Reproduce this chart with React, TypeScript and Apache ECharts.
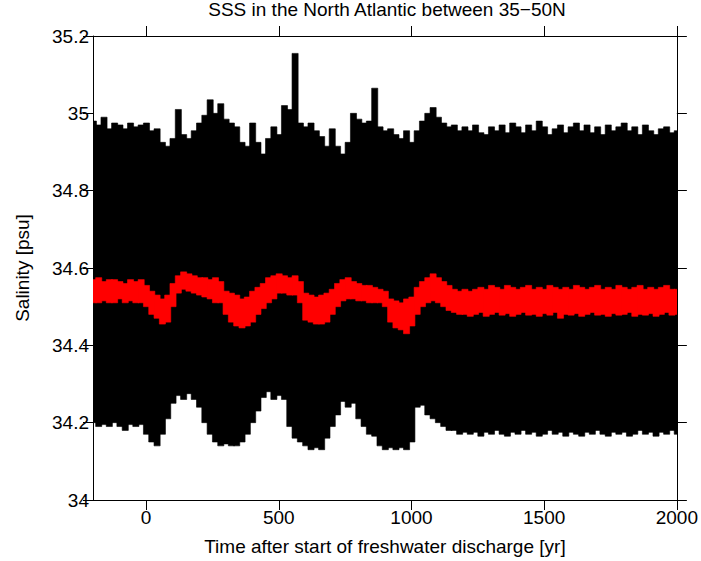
import React, { useEffect, useRef } from "react";
import * as echarts from "echarts";

const years: number[] = [];
for (let y = -200; y <= 2000; y += 20) years.push(y);

const blackHi = [
  34.98, 34.97, 34.99, 34.96, 34.975, 34.97, 34.96, 34.975, 34.965, 34.97,
  34.975, 34.955, 34.96, 34.925, 34.915, 34.935, 35.01, 34.945, 34.935, 34.955,
  34.975, 34.995, 35.035, 35.0, 35.025, 34.985, 34.975, 34.965, 34.925, 34.915,
  34.975, 34.925, 34.895, 34.935, 34.965, 34.945, 35.02, 35.01, 35.155, 34.975,
  34.965, 34.975, 34.955, 34.94, 34.915, 34.96, 34.915, 34.895, 34.925, 35.0,
  34.985, 34.975, 34.98, 35.065, 34.965, 34.955, 34.96, 34.945, 34.935, 34.955,
  34.925, 34.955, 34.98, 35.0, 35.015, 34.99, 34.975, 34.965, 34.97, 34.955,
  34.965, 34.955, 34.97, 34.95, 34.945, 34.965, 34.955, 34.97, 34.95, 34.975,
  34.965, 34.95, 34.97, 34.955, 34.98, 34.965, 34.945, 34.96, 34.97, 34.95,
  34.965, 34.975, 34.955, 34.97, 34.95, 34.965, 34.945, 34.97, 34.955, 34.965,
  34.975, 34.955, 34.965, 34.945, 34.97, 34.955, 34.945, 34.96, 34.965, 34.95,
  34.955,
];

const blackLo = [
  34.2, 34.19, 34.195, 34.19, 34.2, 34.19, 34.18, 34.195, 34.19, 34.195,
  34.17, 34.15, 34.14, 34.17, 34.21, 34.25, 34.27, 34.26, 34.275, 34.26,
  34.24, 34.2, 34.17, 34.15, 34.14, 34.145, 34.14, 34.14, 34.15, 34.17,
  34.2, 34.23, 34.265, 34.28, 34.26, 34.27, 34.26, 34.19, 34.16, 34.15,
  34.14, 34.13, 34.135, 34.13, 34.16, 34.19, 34.22, 34.255, 34.24, 34.25,
  34.21, 34.19, 34.17, 34.165, 34.14, 34.13, 34.135, 34.13, 34.135, 34.13,
  34.15, 34.24, 34.245, 34.22, 34.21, 34.2, 34.19, 34.18, 34.18, 34.17,
  34.175, 34.17, 34.175, 34.165, 34.175, 34.17, 34.18, 34.17, 34.165, 34.175,
  34.17, 34.18, 34.17, 34.175, 34.165, 34.17, 34.18, 34.17, 34.175, 34.165,
  34.175, 34.17, 34.165, 34.175, 34.17, 34.18, 34.17, 34.165, 34.175, 34.17,
  34.175, 34.165, 34.17, 34.18, 34.17, 34.175, 34.165, 34.175, 34.17, 34.18,
  34.17,
];

const redHi = [
  34.57, 34.575, 34.565, 34.57, 34.57, 34.565, 34.56, 34.57, 34.565, 34.57,
  34.555, 34.54, 34.53, 34.52, 34.53, 34.56, 34.58, 34.59, 34.585, 34.58,
  34.575, 34.575, 34.57, 34.575, 34.565, 34.54, 34.535, 34.53, 34.52, 34.525,
  34.54, 34.55, 34.56, 34.575, 34.58, 34.585, 34.58, 34.575, 34.58, 34.565,
  34.535, 34.53, 34.525, 34.53, 34.535, 34.545, 34.56, 34.57, 34.575, 34.565,
  34.56, 34.555, 34.555, 34.55, 34.545, 34.54, 34.52, 34.515, 34.51, 34.52,
  34.525, 34.55, 34.565, 34.575, 34.585, 34.575, 34.565, 34.555, 34.545, 34.54,
  34.545, 34.54, 34.545, 34.55, 34.545, 34.555, 34.55, 34.545, 34.555, 34.55,
  34.545, 34.55, 34.555, 34.545, 34.55, 34.545, 34.555, 34.55, 34.545, 34.55,
  34.545, 34.555, 34.55, 34.545, 34.55, 34.555, 34.545, 34.55, 34.545, 34.555,
  34.55, 34.545, 34.55, 34.555, 34.545, 34.55, 34.545, 34.55, 34.555, 34.545,
  34.545,
];

const redLo = [
  34.51, 34.51, 34.515, 34.51, 34.51, 34.52, 34.51, 34.515, 34.51, 34.51,
  34.5, 34.48, 34.47, 34.455, 34.46, 34.5, 34.535, 34.545, 34.54, 34.535,
  34.53, 34.525, 34.52, 34.51, 34.51, 34.48, 34.46, 34.45, 34.445, 34.45,
  34.46, 34.48, 34.495, 34.51, 34.52, 34.535, 34.535, 34.53, 34.53, 34.51,
  34.465, 34.46, 34.455, 34.455, 34.46, 34.48, 34.5, 34.515, 34.52, 34.52,
  34.515, 34.515, 34.51, 34.51, 34.51, 34.5, 34.46, 34.445, 34.44, 34.43,
  34.45, 34.48, 34.5, 34.51, 34.515, 34.51, 34.5, 34.49, 34.485, 34.48,
  34.48, 34.475, 34.48, 34.485, 34.475, 34.48, 34.485, 34.478, 34.482, 34.475,
  34.48, 34.485, 34.478, 34.48, 34.475, 34.482, 34.478, 34.485, 34.47, 34.48,
  34.478, 34.482, 34.475, 34.48, 34.485, 34.478, 34.48, 34.475, 34.482, 34.478,
  34.48, 34.485, 34.475, 34.48, 34.478, 34.482, 34.475, 34.48, 34.485, 34.478,
  34.48,
];

const xTicks = [0, 500, 1000, 1500, 2000];
const yTicks = [34, 34.2, 34.4, 34.6, 34.8, 35, 35.2];

const titleText = "SSS in the North Atlantic between 35\u221250N";
const xName = "Time after start of freshwater discharge [yr]";
const yName = "Salinity [psu]";

const STEP = 20;
const FONT = "'Liberation Sans', Arial, Helvetica, sans-serif";

function bandRender(color: string) {
  return (params: any, api: any) => {
    const x = api.value(0);
    const lo = api.value(1);
    const hi = api.value(2);
    const p1 = api.coord([x - STEP / 2, hi]);
    const p2 = api.coord([x + STEP / 2, lo]);
    return {
      type: "rect",
      shape: { x: p1[0], y: p1[1], width: p2[0] - p1[0] + 0.8, height: p2[1] - p1[1] },
      style: { fill: color, stroke: color, lineWidth: 0.6 },
    };
  };
}

export default function App() {
  const ref = useRef<HTMLDivElement>(null);
  useEffect(() => {
    if (!ref.current) return;
    const chart = echarts.init(ref.current, undefined, { renderer: "svg" });
    const blackData = years.map((y, i) => [y, blackLo[i], blackHi[i]]);
    const redData = years.map((y, i) => [y, redLo[i], redHi[i]]);
    const axisLine = { show: true, onZero: false, lineStyle: { color: "#000", width: 1 } };
    const tickStyle = { lineStyle: { color: "#000", width: 1 }, length: 10, inside: false };
    const fmt = (v: number) => String(v);
    chart.setOption({
      animation: false,
      backgroundColor: "#fff",
      textStyle: { fontFamily: FONT },
      title: {
        text: titleText,
        left: 387,
        textAlign: "center",
        top: 0,
        padding: 0,
        textStyle: { fontFamily: FONT, fontSize: 19, fontWeight: "normal", color: "#000" },
      },
      grid: { left: 93, right: 20, top: 36, bottom: 60 },
      xAxis: [
        {
          type: "value",
          min: -200,
          max: 2000,
          position: "bottom",
          axisLine,
          axisTick: { ...tickStyle, customValues: xTicks },
          axisLabel: { customValues: xTicks, formatter: fmt, fontSize: 19, color: "#000", fontFamily: FONT, margin: 8 },
          splitLine: { show: false },
          name: xName,
          nameLocation: "middle",
          nameGap: 37,
          nameTextStyle: { fontSize: 19, color: "#000", fontFamily: FONT },
        },
        {
          type: "value",
          min: -200,
          max: 2000,
          position: "top",
          axisLine,
          axisTick: { ...tickStyle, customValues: xTicks },
          axisLabel: { show: false },
          splitLine: { show: false },
        },
      ],
      yAxis: [
        {
          type: "value",
          min: 34,
          max: 35.2,
          position: "left",
          axisLine,
          axisTick: { ...tickStyle, customValues: yTicks },
          axisLabel: { customValues: yTicks, formatter: fmt, fontSize: 19, color: "#000", fontFamily: FONT, margin: 4 },
          splitLine: { show: false },
          name: yName,
          nameLocation: "middle",
          nameGap: 61,
          nameTextStyle: { fontSize: 19, color: "#000", fontFamily: FONT },
        },
        {
          type: "value",
          min: 34,
          max: 35.2,
          position: "right",
          axisLine,
          axisTick: { ...tickStyle, customValues: yTicks },
          axisLabel: { show: false },
          splitLine: { show: false },
        },
      ],
      series: [
        {
          type: "custom",
          name: "monthly",
          renderItem: bandRender("#000"),
          data: blackData,
          encode: { x: 0, y: [1, 2] },
          clip: true,
          z: 2,
        },
        {
          type: "custom",
          name: "annual",
          renderItem: bandRender("#ff0000"),
          data: redData,
          encode: { x: 0, y: [1, 2] },
          clip: true,
          z: 3,
        },
      ],
    });
    return () => chart.dispose();
  }, []);
  return (
    <div
      ref={ref}
      style={{ position: "fixed", left: 0, top: 0, width: 701, height: 561 }}
    />
  );
}
